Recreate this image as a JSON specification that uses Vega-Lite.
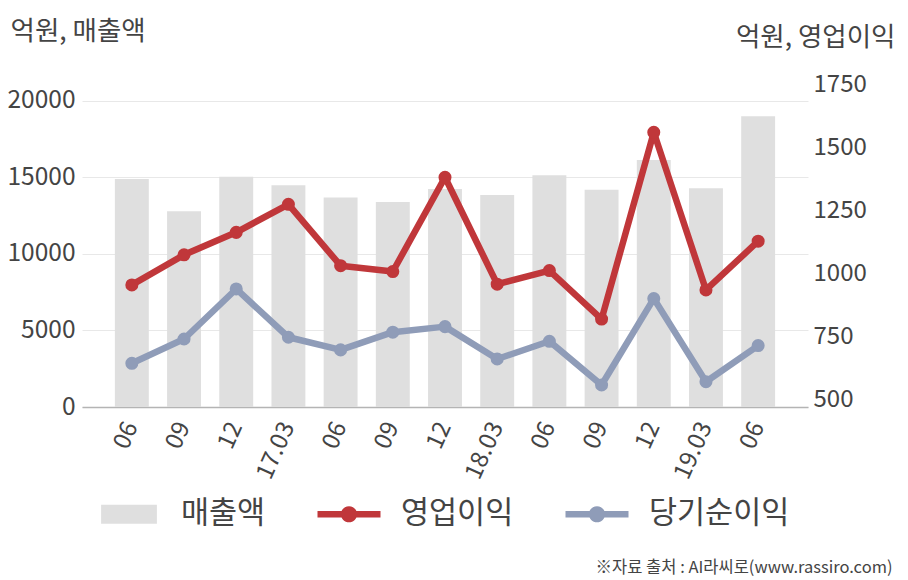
{
  "$schema": "https://vega.github.io/schema/vega-lite/v6.json",
  "width": 726,
  "height": 323,
  "autosize": "none",
  "padding": {"left": 82, "top": 84, "right": 100, "bottom": 173},
  "background": "white",
  "config": {
    "font": "Noto Sans CJK KR",
    "view": {"stroke": null},
    "axis": {"labelColor": "#444444", "titleColor": "#444444", "titleFontWeight": "normal", "labelFont": "Noto Sans CJK KR", "titleFont": "Noto Sans CJK KR"},
    "legend": {"labelFont": "Noto Sans CJK KR"}
  },
  "data": {
    "values": [
      {"q": "16.06", "매출액": 14900, "영업이익": 955, "당기순이익": 645},
      {"q": "16.09", "매출액": 12800, "영업이익": 1074, "당기순이익": 741},
      {"q": "16.12", "매출액": 15050, "영업이익": 1163, "당기순이익": 939},
      {"q": "17.03", "매출액": 14500, "영업이익": 1274, "당기순이익": 748},
      {"q": "17.06", "매출액": 13700, "영업이익": 1031, "당기순이익": 698},
      {"q": "17.09", "매출액": 13400, "영업이익": 1008, "당기순이익": 768},
      {"q": "17.12", "매출액": 14250, "영업이익": 1381, "당기순이익": 790},
      {"q": "18.03", "매출액": 13850, "영업이익": 958, "당기순이익": 662},
      {"q": "18.06", "매출액": 15150, "영업이익": 1012, "당기순이익": 732},
      {"q": "18.09", "매출액": 14200, "영업이익": 820, "당기순이익": 559},
      {"q": "18.12", "매출액": 16150, "영업이익": 1559, "당기순이익": 901},
      {"q": "19.03", "매출액": 14300, "영업이익": 935, "당기순이익": 572},
      {"q": "19.06", "매출액": 19000, "영업이익": 1128, "당기순이익": 715}
    ]
  },
  "layer": [
    {
      "mark": {"type": "bar"},
      "encoding": {
        "x": {
          "field": "q", "type": "ordinal", "sort": null,
          "scale": {"paddingInner": 0.35, "paddingOuter": 0.63},
          "axis": {
            "labelExpr": "indexof(datum.label, '.03') > 0 ? datum.label : substring(datum.label, 3)",
            "labelAngle": -66,
            "labelFontSize": 24,
            "labelPadding": 16,
            "ticks": false,
            "domain": true,
            "domainColor": "#b4b4b4",
            "domainWidth": 1.5,
            "grid": false,
            "title": "※자료 출처 : AI라씨로(www.rassiro.com)",
            "titleFontSize": 16.5,
            "titleAnchor": null,
            "titleAlign": "right",
            "titleBaseline": "alphabetic",
            "titleX": 810,
            "titleY": 165
          }
        },
        "y": {
          "field": "매출액", "type": "quantitative",
          "scale": {"domain": [0, 21111], "nice": false},
          "axis": {
            "values": [0, 5000, 10000, 15000, 20000],
            "format": "d",
            "grid": true,
            "gridColor": "#e8e8e8",
            "gridWidth": 1,
            "domain": false,
            "ticks": false,
            "labelFontSize": 24.5,
            "labelPadding": 7,
            "title": "억원, 매출액",
            "titleFontSize": 26.5,
            "titleAngle": 0,
            "titleAnchor": null,
            "titleAlign": "left",
            "titleBaseline": "alphabetic",
            "titleX": -72,
            "titleY": -45
          }
        },
        "color": {
          "datum": "매출액", "type": "nominal",
          "scale": {"domain": ["매출액", "영업이익", "당기순이익"], "range": ["#dfdfdf", "#c0373a", "#8f9cb8"]},
          "legend": {
            "orient": "none",
            "legendX": 17,
            "legendY": 400,
            "direction": "horizontal",
            "title": null,
            "padding": 0,
            "labelFontSize": 30.5,
            "labelColor": "#444444",
            "labelOffset": 22,
            "columnPadding": 51,
            "symbolSize": 3600,
            "symbolStrokeWidth": 0,
            "encode": {
              "symbols": {
                "update": {
                  "shape": [
                    {"test": "datum.label === '매출액'", "value": "M-0.93,-0.32H0.93V0.32H-0.93Z"},
                    {"value": "M-1.05,-0.11H1.05V0.11H-1.05Z M0.27,0A0.27,0.27 0 1,1 -0.27,0A0.27,0.27 0 1,1 0.27,0Z"}
                  ],
                  "fill": {"scale": "color", "field": "value"},
                  "strokeWidth": {"value": 0},
                  "opacity": {"value": 1},
                  "fillOpacity": {"value": 1}
                }
              }
            }
          }
        }
      }
    },
    {
      "transform": [{"fold": ["영업이익", "당기순이익"], "as": ["series", "value"]}],
      "mark": {"type": "line", "strokeWidth": 6.5, "strokeJoin": "round", "point": {"filled": true, "size": 170, "opacity": 1}},
      "encoding": {
        "x": {"field": "q", "type": "ordinal", "sort": null},
        "y": {
          "field": "value", "type": "quantitative",
          "scale": {"domain": [472, 1750], "nice": false, "zero": false},
          "axis": {
            "orient": "right",
            "values": [500, 750, 1000, 1250, 1500, 1750],
            "format": "d",
            "grid": false,
            "domain": false,
            "ticks": false,
            "labelFontSize": 24,
            "labelPadding": 5,
            "title": "억원, 영업이익",
            "titleFontSize": 26.5,
            "titleAngle": 0,
            "titleAnchor": null,
            "titleAlign": "right",
            "titleBaseline": "alphabetic",
            "titleX": 87,
            "titleY": -39
          }
        },
        "color": {"field": "series", "type": "nominal", "legend": {"title": null}}
      }
    }
  ],
  "resolve": {"scale": {"y": "independent"}}
}
